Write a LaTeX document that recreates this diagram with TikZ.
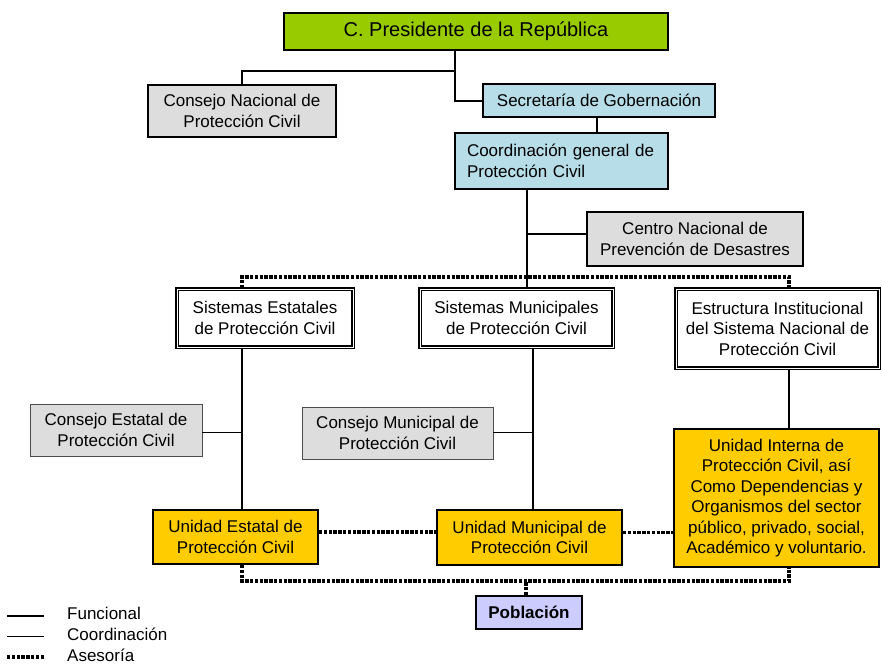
\documentclass[tikz,border=0pt]{standalone}
\usepackage{fontspec}
\setmainfont{Liberation Sans}
\usetikzlibrary{positioning}

\definecolor{presgreen}{HTML}{99CC00}
\definecolor{govteal}{HTML}{B7DEE8}
\definecolor{boxgray}{HTML}{DDDDDD}
\definecolor{unitgold}{HTML}{FFCC00}
\definecolor{poplilac}{HTML}{CCCCFF}

\begin{document}
\begin{tikzpicture}[x=1pt, y=-1pt,
    every node/.style={font=\fontsize{17}{20.5}\selectfont, align=center},
    org box/.style={rectangle, draw, line width=1.8pt, inner sep=2pt},
    gray box/.style={org box, fill=boxgray},
    council box/.style={rectangle, draw=black!70, line width=0.8pt, fill=boxgray, inner sep=2pt},
    teal box/.style={org box, fill=govteal},
    gold box/.style={org box, fill=unitgold},
    sys box/.style={rectangle, draw, fill=white, line width=1.6pt, double=white, double distance=1pt, inner sep=2pt},
    func line/.style={line width=2pt},
    coord line/.style={line width=0.8pt},
    ases line/.style={line width=3.2pt, dash pattern=on 3.4pt off 1.4pt},
    leg text/.style={anchor=base west, inner sep=0pt}]

  \useasboundingbox (0,0) rectangle (882,664);

  \node[org box, fill=presgreen, minimum width=384pt, minimum height=37pt,
        font=\fontsize{20}{24}\selectfont] (pres) at (476,31.5) {C. Presidente de la República};
  \node[gray box, minimum width=188pt, minimum height=52pt] (cnpc) at (242,111) {Consejo Nacional de\\Protección Civil};
  \node[teal box, minimum width=232pt, minimum height=33pt] (segob) at (599,100.5) {Secretaría de Gobernación};
  \node[teal box, text width=189pt, align=left, inner xsep=12pt, minimum height=56pt] (cgpc) at (561.5,161) {Coordinación general de\\Protección Civil};
  \node[gray box, minimum width=216pt, minimum height=54pt] (cenapred) at (695,239) {Centro Nacional de\\Prevención de Desastres};

  \node[sys box, minimum width=176pt, minimum height=58pt] (sest) at (265,318) {Sistemas Estatales\\ de Protección Civil};
  \node[sys box, minimum width=193pt, minimum height=58pt] (smun) at (516.5,318) {Sistemas Municipales\\de Protección Civil};
  \node[sys box, minimum width=203pt, minimum height=79pt] (estr) at (777.5,328.5) {Estructura Institucional\\del Sistema Nacional de\\Protección Civil};

  \node[council box, minimum width=172pt, minimum height=52pt] (cest) at (116,430) {Consejo Estatal de\\Protección Civil};
  \node[council box, minimum width=191pt, minimum height=52pt] (cmun) at (397.5,433) {Consejo Municipal de\\Protección Civil};

  \node[gold box, minimum width=165pt, minimum height=54pt] (uest) at (235.5,537) {Unidad Estatal de\\Protección Civil};
  \node[gold box, minimum width=185pt, minimum height=55pt] (umun) at (529.5,537.5) {Unidad Municipal de\\Protección Civil};
  \node[gold box, minimum width=205pt, minimum height=138pt] (uint) at (776.5,498) {Unidad Interna de\\Protección Civil, así\\Como Dependencias y\\Organismos del sector\\público, privado, social,\\Académico y voluntario.};

  \node[org box, fill=poplilac, minimum width=106pt, minimum height=33pt, font=\fontsize{17}{20.5}\selectfont\bfseries] (pobl) at (529,612.5) {Población};

  \coordinate (j1) at (455,71);
  \coordinate (j2) at (527,234);
  \coordinate (colE) at (242,432);
  \coordinate (colM) at (533,432);
  \coordinate (topI) at (789,277);
  \coordinate (botI) at (789,581);

  % funcional
  \draw[func line] (pres.south -| j1) -- (j1) -| (cnpc.north);
  \draw[func line] (j1) |- (segob.west);
  \draw[func line] (segob.south -| 597,0) -- (cgpc.north -| 597,0);
  \draw[func line] (cgpc.south -| j2) -- (smun.north -| j2);
  \draw[func line] (j2) -- (j2 -| cenapred.west);
  \draw[func line] (sest.south -| colE) -- (uest.north -| colE);
  \draw[func line] (smun.south -| colM) -- (umun.north -| colM);
  \draw[func line] (estr.south -| topI) -- (uint.north -| topI);

  % coordinacion
  \draw[coord line] (cest.east |- colE) -- (colE);
  \draw[coord line] (cmun.east |- colM) -- (colM);

  % asesoria
  \draw[ases line] (sest.north -| colE) -- (colE |- topI) -- (topI) -- (estr.north -| topI);
  \draw[ases line] ([yshift=5pt]uest.east) -- ([yshift=5pt]uest.east -| umun.west);
  \draw[ases line] ([yshift=5pt]umun.east) -- ([yshift=5pt]umun.east -| uint.west);
  \draw[ases line] (uest.south -| colE) -- (colE |- botI) -- (botI) -- (uint.south -| botI);
  \draw[ases line] (pobl.north -| 526,0) -- (526,581);

  % leyenda
  \node[leg text] (lgf) at (67,619.5) {Funcional};
  \node[leg text] (lgc) at (67,640.5) {Coordinación};
  \node[leg text] (lga) at (67,661) {Asesoría};
  \draw[func line] ([xshift=-60pt,yshift=4pt]lgf.base west) -- ([xshift=-23pt,yshift=4pt]lgf.base west);
  \draw[coord line] ([xshift=-60pt,yshift=4pt]lgc.base west) -- ([xshift=-23pt,yshift=4pt]lgc.base west);
  \draw[ases line] ([xshift=-60pt,yshift=4pt]lga.base west) -- ([xshift=-23pt,yshift=4pt]lga.base west);

\end{tikzpicture}
\end{document}
